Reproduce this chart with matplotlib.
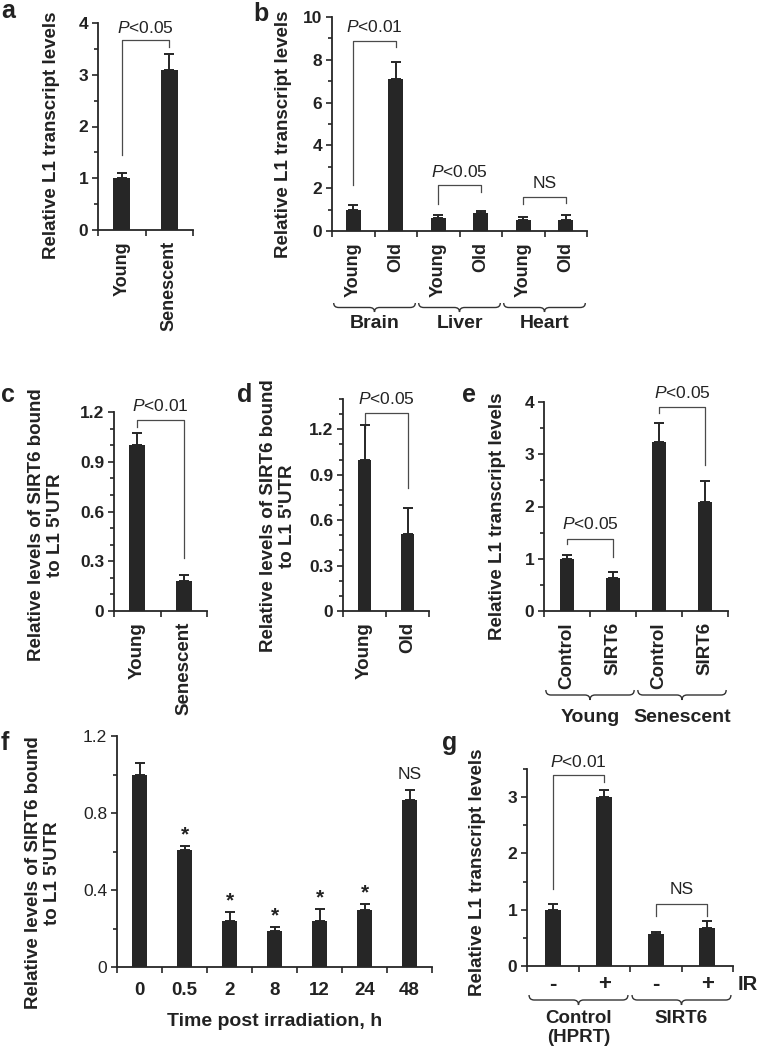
import numpy as np
import matplotlib
matplotlib.use('Agg')
import matplotlib.pyplot as plt
from matplotlib.ticker import MultipleLocator
from matplotlib.path import Path
from matplotlib.patches import PathPatch
from matplotlib.transforms import blended_transform_factory

plt.rcParams['font.family'] = ['Liberation Sans', 'DejaVu Sans']
plt.rcParams['mathtext.fontset'] = 'custom'
plt.rcParams['mathtext.it'] = 'Liberation Sans:italic'
plt.rcParams['mathtext.rm'] = 'Liberation Sans'

# ---- data ----
a_labels = ['Young', 'Senescent']
a_vals = [1.0, 3.1]
a_err = [0.1, 0.3]

b_labels = ['Young', 'Old', 'Young', 'Old', 'Young', 'Old']
b_groups = ['Brain', 'Liver', 'Heart']
b_vals = [1.0, 7.1, 0.63, 0.82, 0.5, 0.5]
b_err = [0.2, 0.82, 0.14, 0.13, 0.14, 0.25]

c_labels = ['Young', 'Senescent']
c_vals = [1.0, 0.18]
c_err = [0.075, 0.035]

d_labels = ['Young', 'Old']
d_vals = [1.0, 0.51]
d_err = [0.23, 0.17]

e_labels = ['Control', 'SIRT6', 'Control', 'SIRT6']
e_groups = ['Young', 'Senescent']
e_vals = [1.0, 0.64, 3.23, 2.09]
e_err = [0.08, 0.11, 0.37, 0.39]

f_labels = ['0', '0.5', '2', '8', '12', '24', '48']
f_vals = [1.0, 0.61, 0.237, 0.187, 0.237, 0.295, 0.87]
f_err = [0.06, 0.02, 0.047, 0.02, 0.063, 0.031, 0.05]
f_marks = ['', '*', '*', '*', '*', '*', 'NS']

g_labels = ['-', '+', '-', '+']
g_groups = ['Control\n(HPRT)', 'SIRT6']
g_vals = [1.0, 3.0, 0.57, 0.67]
g_err = [0.1, 0.12, 0.03, 0.13]

W, H = 765, 1050
BAR = '#262626'
LINE = '#4a4a4a'
TXT = '#222'
YLAB = 'Relative L1 transcript levels'
YLAB2 = "Relative levels of SIRT6 bound\nto L1 5'UTR"

fig = plt.figure(figsize=(W / 100, H / 100), dpi=100)


def fy(px):
    return 1 - px / H


def add_ax(l, t, r, b):
    return fig.add_axes([l / W, 1 - b / H, (r - l) / W, (b - t) / H])


def bar_panel(rect, labels, vals, errs, ymax, major, minor, width,
              bold_y=True, cat_kw=None, cat_pad=8):
    ax = add_ax(*rect)
    n = len(vals)
    x = np.arange(n)
    ax.bar(x, vals, width=width, color=BAR, zorder=2)
    ax.errorbar(x, vals, yerr=[np.zeros(n), errs], fmt='none', ecolor=BAR,
                elinewidth=1.4, capsize=3.5, capthick=1.4, zorder=3)
    ax.set_xlim(-0.5, n - 0.5)
    ax.set_ylim(0, ymax)
    for s in ['top', 'right']:
        ax.spines[s].set_visible(False)
    for s in ['left', 'bottom']:
        ax.spines[s].set_linewidth(1.3)
        ax.spines[s].set_color(BAR)
    yt = np.arange(0, ymax + 1e-9, major)
    ax.set_yticks(yt, [f'{v:.10g}' for v in yt], fontsize=12.5,
                  fontweight='bold' if bold_y else 'normal', color=TXT)
    ax.yaxis.set_minor_locator(MultipleLocator(minor))
    ax.set_xticks(np.arange(n + 1) - 0.5, [''] * (n + 1))
    if cat_kw is None:
        cat_kw = dict(rotation=90, fontsize=13.5, fontweight='bold')
    ax.set_xticks(x, labels, minor=True, color=TXT, **cat_kw)
    ax.tick_params(which='both', direction='out', width=1.2, color=BAR)
    ax.tick_params(axis='y', which='major', length=4, pad=3)
    ax.tick_params(axis='y', which='minor', length=3)
    ax.tick_params(axis='x', which='major', length=4)
    ax.tick_params(axis='x', which='minor', length=0, pad=cat_pad)
    return ax


def bracket(ax, i, j, yl, ytop, yr, text, ty):
    ax.plot([i, i, j, j], [yl, ytop, ytop, yr], color=LINE, lw=0.9,
            clip_on=False, zorder=1)
    ax.text((i + j) / 2, ty, text, ha='center', va='center', fontsize=12.5,
            color=TXT)


def braces(ax, names, k, y_top, y_tip, y_text, r, size=14, va='center'):
    tr = blended_transform_factory(ax.transData, fig.transFigure)
    yt, ym, yb = fy(y_top), fy((y_top + y_tip) / 2), fy(y_tip)
    for g, name in enumerate(names):
        x0 = g * k - 0.5 + 0.04
        x1 = g * k + k - 0.5 - 0.04
        xm = (x0 + x1) / 2
        verts = [(x0, yt), (x0, ym), (x0 + r, ym), (xm - r, ym), (xm, ym), (xm, yb),
                 (xm, ym), (xm + r, ym), (x1 - r, ym), (x1, ym), (x1, yt)]
        codes = [Path.MOVETO, Path.CURVE3, Path.CURVE3, Path.LINETO, Path.CURVE3,
                 Path.CURVE3, Path.CURVE3, Path.CURVE3, Path.LINETO, Path.CURVE3,
                 Path.CURVE3]
        fig.add_artist(PathPatch(Path(verts, codes), transform=tr, fill=False,
                                 lw=1.0, color='#333'))
        ax.text(xm, fy(y_text), name, transform=tr, ha='center', va=va,
                fontsize=size, fontweight='bold', color=TXT, linespacing=1.15)


P = r'$P$'

# ---- a ----
ax = bar_panel((98, 23, 193, 230), a_labels, a_vals, a_err, 4, 1, 0.5, 0.36,
               cat_kw=dict(rotation=90, fontsize=13, fontweight='bold'))
bracket(ax, 0, 1, 1.45, 3.67, 3.53, P + '<0.05', 3.9)

# ---- b ----
ax = bar_panel((332, 17, 587, 231), b_labels, b_vals, b_err, 10, 2, 1, 0.35,
               cat_kw=dict(rotation=90, fontsize=13, fontweight='bold'))
bracket(ax, 0, 1, 2.13, 8.9, 8.6, P + '<0.01', 9.53)
bracket(ax, 2, 3, 1.28, 2.13, 1.82, P + '<0.05', 2.76)
bracket(ax, 4, 5, 1.28, 1.57, 1.32, 'NS', 2.24)
braces(ax, b_groups, 2, 303, 312, 323, 0.12)

# ---- c ----
ax = bar_panel((114, 412, 207, 611), c_labels, c_vals, c_err, 1.2, 0.3, 0.1, 0.34)
bracket(ax, 0, 1, 1.11, 1.154, 0.32, P + '<0.01', 1.234)

# ---- d ----
ax = bar_panel((343, 399, 429, 611), d_labels, d_vals, d_err, 1.4, 0.3, 0.1, 0.31)
bracket(ax, 0, 1, 1.21, 1.31, 0.81, P + '<0.05', 1.40)

# ---- e ----
ax = bar_panel((544, 402, 728, 611), e_labels, e_vals, e_err, 4, 1, 0.5, 0.31)
bracket(ax, 0, 1, 1.29, 1.38, 1.03, P + '<0.05', 1.66)
bracket(ax, 2, 3, 3.78, 3.9, 2.79, P + '<0.05', 4.17)
braces(ax, e_groups, 2, 690, 700, 718, 0.11)

# ---- f ----
ax = bar_panel((117, 736, 432, 967), f_labels, f_vals, f_err, 1.2, 0.4, 0.2, 0.32,
               bold_y=False, cat_kw=dict(fontsize=13.5, fontweight='bold'), cat_pad=11)
for i, (v, e, m) in enumerate(zip(f_vals, f_err, f_marks)):
    if m == '*':
        ax.text(i, v + e + 0.03, m, ha='center', va='baseline', fontsize=15,
                fontweight='bold', color=TXT)
    elif m:
        ax.text(i, v + e + 0.08, m, ha='center', va='center', fontsize=12.5,
                color=TXT)
ax.set_xlabel('Time post irradiation, h', fontsize=14, fontweight='bold',
              labelpad=10, color=TXT)

# ---- g ----
ax = bar_panel((527, 769, 733, 966), g_labels, g_vals, g_err, 3.5, 1, 0.5, 0.31,
               cat_kw=dict(fontsize=16, fontweight='bold'), cat_pad=6)
bracket(ax, 0, 1, 1.36, 3.39, 3.27, P + '<0.01', 3.63)
bracket(ax, 2, 3, 0.88, 1.1, 0.88, 'NS', 1.36)
braces(ax, g_groups, 2, 995, 1005, 1010, 0.1, size=13.5, va='top')
fig.text(748 / W, fy(984), 'IR', ha='center', va='center', fontsize=14.5,
         fontweight='bold', color=TXT)

# ---- y labels ----
for x, y, s in [(52, 135, YLAB), (283, 134, YLAB), (46, 525, YLAB2),
                (278, 516, YLAB2), (497, 516, YLAB), (43, 873, YLAB2),
                (478, 872, YLAB)]:
    fig.text(x / W, fy(y), s, rotation=90, ha='center', va='center',
             fontsize=13.5, fontweight='bold', color=TXT, multialignment='center',
             linespacing=1.15)

# ---- panel letters ----
for x, y, s in [(1, 18, 'a'), (253, 21, 'b'), (1, 402, 'c'), (237, 402, 'd'),
                (462, 402, 'e'), (1, 750, 'f'), (442, 750, 'g')]:
    fig.text(x / W, fy(y), s, ha='left', va='baseline', fontsize=18,
             fontweight='bold', color=TXT)

fig.savefig('out.png', dpi=100)
